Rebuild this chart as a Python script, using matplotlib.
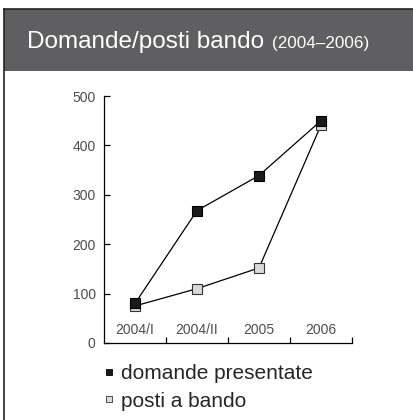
import matplotlib
matplotlib.use("Agg")
import matplotlib.pyplot as plt
from matplotlib.lines import Line2D
from matplotlib.patches import Rectangle

plt.rcParams['font.family'] = ['Liberation Sans', 'DejaVu Sans']

periodi = ['2004/I', '2004/II', '2005', '2006']
domande = [80, 268, 339, 450]
posti = [75, 110, 152, 441]
y_ticks = [0, 100, 200, 300, 400, 500]

fig = plt.figure(figsize=(4.14, 4.20), dpi=100)

# header band + frame
fig.patches.append(Rectangle((4 / 414, 1 - 71 / 420), 1, 62 / 420, transform=fig.transFigure,
                             facecolor='#5f5f61', edgecolor='none', zorder=0))
fig.add_artist(Line2D([4 / 414, 1], [1 - 9 / 420, 1 - 9 / 420], color='#222222', lw=1.2))
fig.add_artist(Line2D([4 / 414, 4 / 414], [0, 1 - 9 / 420], color='#222222', lw=1.2))
fig.text(27 / 414, 1 - 48 / 420, 'Domande/posti bando', color='white', fontsize=17.5, va='baseline')
fig.text(272 / 414, 1 - 48 / 420, '(2004\u20132006)', color='white', fontsize=12.3, va='baseline')

ax = fig.add_axes([104 / 414, 1 - 343 / 420, 248 / 414, 247 / 420])
x = range(len(periodi))
ax.plot(x, posti, color='black', lw=0.9, marker='s', ms=7.5, mfc='#d9d9d9', mec='#333333', mew=0.8, zorder=3)
ax.plot(x, domande, color='black', lw=0.9, marker='s', ms=7.5, mfc='#1a1a1a', mec='black', mew=0.8, zorder=4)

ax.set_xlim(-0.5, len(periodi) - 0.5)
ax.set_ylim(0, 500)
for s in ['top', 'right']:
    ax.spines[s].set_visible(False)
ax.spines['left'].set_linewidth(0.9)
ax.spines['bottom'].set_linewidth(0.9)
ax.set_yticks(y_ticks)
ax.tick_params(axis='y', direction='in', length=4, width=0.9, pad=6, labelsize=10, labelcolor='#4d4d4d')
ax.set_xticks([i + 0.5 for i in x])
ax.set_xticklabels([])
ax.tick_params(axis='x', direction='in', length=4, width=0.9)
for i, p in zip(x, periodi):
    ax.text(i, 26, p, ha='center', va='center', fontsize=10, color='#4d4d4d')

handles = [
    Line2D([], [], ls='none', marker='s', ms=5, mfc='#1a1a1a', mec='black', mew=0.6),
    Line2D([], [], ls='none', marker='s', ms=5, mfc='#d9d9d9', mec='#333333', mew=0.6),
]
fig.legend(handles, ['domande presentate', 'posti a bando'], loc='upper left',
           bbox_to_anchor=(93 / 414, 1 - 354 / 420), frameon=False, fontsize=15,
           handlelength=0.5, handletextpad=0.35, labelspacing=0.4, borderpad=0,
           labelcolor='#262626')

fig.savefig('out.png', dpi=100)
